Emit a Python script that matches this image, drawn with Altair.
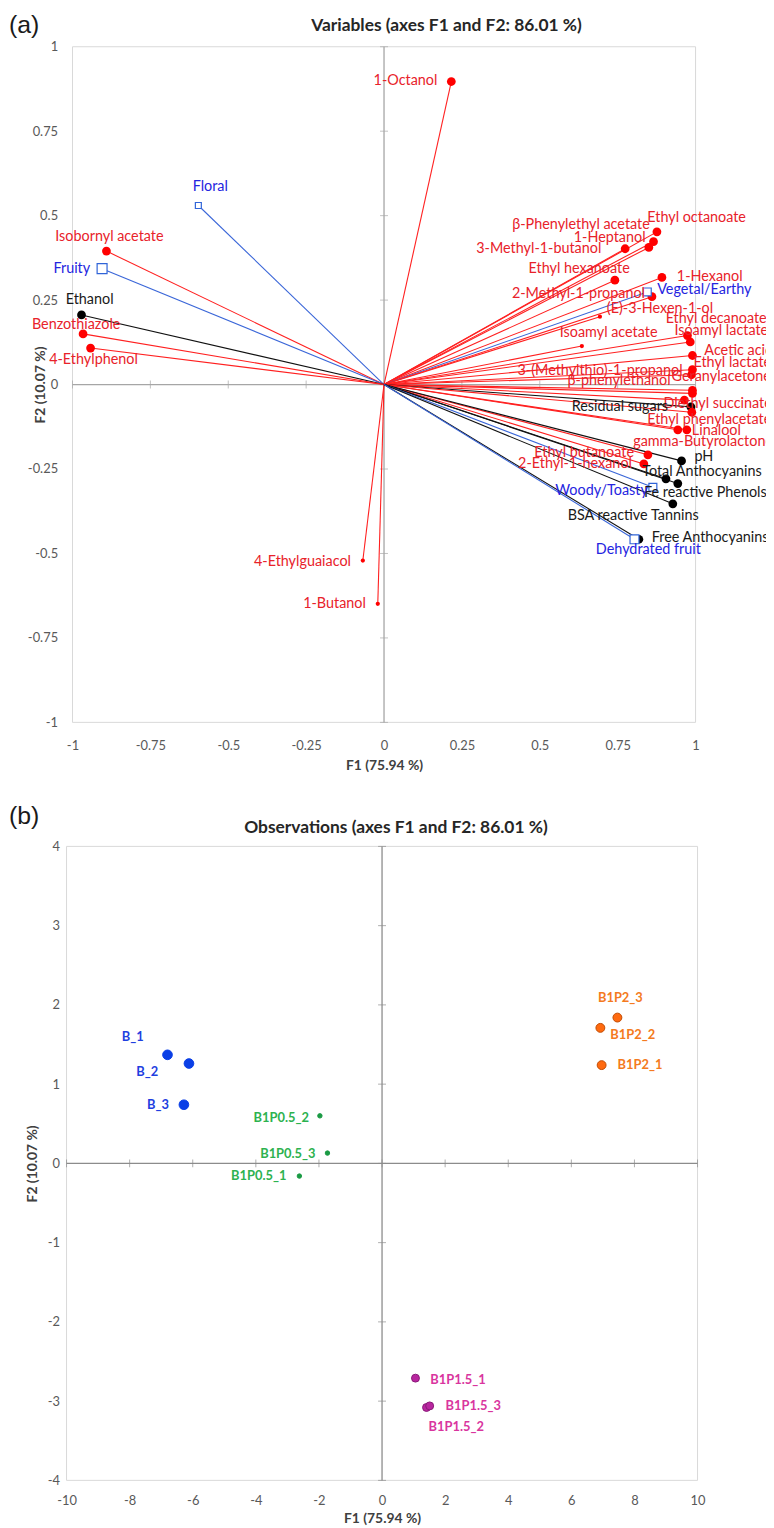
import altair as alt
import pandas as pd

# ---------------- Panel (a): variables (correlation circle) ----------------
var_names = [
    "1-Octanol", "Floral", "Isobornyl acetate", "Fruity", "Ethanol",
    "Benzothiazole", "4-Ethylphenol", "4-Ethylguaiacol", "1-Butanol",
    "Ethyl octanoate", "1-Heptanol", "β-Phenylethyl acetate", "3-Methyl-1-butanol",
    "Ethyl hexanoate", "1-Hexanol", "Vegetal/Earthy", "2-Methyl-1-propanol",
    "(E)-3-Hexen-1-ol", "Isoamyl acetate", "Ethyl decanoate", "Isoamyl lactate",
    "Acetic acid", "Ethyl lactate", "3-(Methylthio)-1-propanol", "Geranylacetone",
    "β-phenylethanol", "Diethyl succinate", "Residual sugars", "Ethyl phenylacetate",
    "Linalool", "gamma-Butyrolactone", "Ethyl butanoate", "2-Ethyl-1-hexanol",
    "pH", "Total Anthocyanins", "Fe reactive Phenols", "Woody/Toasty",
    "BSA reactive Tannins", "Free Anthocyanins", "Dehydrated fruit",
]
var_f1 = [
    0.216, -0.596, -0.891, -0.905, -0.971,
    -0.966, -0.942, -0.068, -0.020,
    0.876, 0.865, 0.850, 0.774,
    0.741, 0.892, 0.845, 0.860,
    0.693, 0.635, 0.974, 0.983,
    0.990, 0.990, 0.987, 0.990,
    0.990, 0.964, 0.985, 0.988,
    0.972, 0.943, 0.847, 0.834,
    0.955, 0.905, 0.943, 0.863,
    0.927, 0.818, 0.804,
]
var_f2 = [
    0.897, 0.530, 0.395, 0.343, 0.206,
    0.150, 0.108, -0.521, -0.649,
    0.452, 0.423, 0.406, 0.402,
    0.309, 0.317, 0.274, 0.260,
    0.201, 0.114, 0.145, 0.126,
    0.086, 0.044, 0.029, -0.017,
    -0.026, -0.046, -0.066, -0.082,
    -0.134, -0.134, -0.208, -0.235,
    -0.226, -0.279, -0.293, -0.304,
    -0.353, -0.458, -0.458,
]
var_type = [
    "compound", "sensory", "compound", "sensory", "chemical",
    "compound", "compound", "compound", "compound",
    "compound", "compound", "compound", "compound",
    "compound", "compound", "sensory", "compound",
    "compound", "compound", "compound", "compound",
    "compound", "compound", "compound", "compound",
    "compound", "compound", "chemical", "compound",
    "compound", "compound", "compound", "compound",
    "chemical", "chemical", "chemical", "sensory",
    "chemical", "chemical", "sensory",
]
a_ticks = [-1, -0.75, -0.5, -0.25, 0, 0.25, 0.5, 0.75, 1]

# ---------------- Panel (b): observations ----------------
obs_names = ["B_1", "B_2", "B_3", "B1P0.5_1", "B1P0.5_2", "B1P0.5_3",
             "B1P1.5_1", "B1P1.5_2", "B1P1.5_3", "B1P2_1", "B1P2_2", "B1P2_3"]
obs_f1 = [-6.80, -6.12, -6.28, -2.62, -1.97, -1.73, 1.06, 1.41, 1.51, 6.96, 6.92, 7.46]
obs_f2 = [1.37, 1.26, 0.74, -0.16, 0.60, 0.13, -2.71, -3.08, -3.06, 1.24, 1.71, 1.84]
obs_group = ["B", "B", "B", "B1P0.5", "B1P0.5", "B1P0.5",
             "B1P1.5", "B1P1.5", "B1P1.5", "B1P2", "B1P2", "B1P2"]
b_ticks_x = [-10, -8, -6, -4, -2, 0, 2, 4, 6, 8, 10]
b_ticks_y = [-4, -3, -2, -1, 0, 1, 2, 3, 4]

# ---------------- styling ----------------
FONT = "Lato"
FRAME_COL = "#d9d9d9"
# (a): group 634 wide, plot drawn from px 6 to 634; (b): plot 0..636
A_RANGE_X, A_W, A_H = [6, 634], 634, 681
B_RANGE_X, B_W, B_H = [0, 636], 636, 639

VAR_COLORS = {
    "compound": {"line": "#ff2020", "mark": "#ff0000", "text": "#e8222a"},
    "chemical": {"line": "#111111", "mark": "#000000", "text": "#1a1a1a"},
    "sensory": {"line": "#3a66d8", "mark": "#3064d8", "text": "#2424e0"},
}
SMALL_DOTS = {"4-Ethylguaiacol", "1-Butanol", "(E)-3-Hexen-1-ol", "Isoamyl acetate"}
SQUARE_SIZES = {"Floral": 36, "Fruity": 100, "Vegetal/Earthy": 64,
                "Woody/Toasty": 64, "Dehydrated fruit": 81}
# label placement: (align, dx px, dy px) relative to the marker
VAR_LABEL = {
    "1-Octanol": ("right", -14, 0), "Floral": ("center", 12, -19),
    "Isobornyl acetate": ("center", 3, -14), "Fruity": ("right", -12, 0),
    "Ethanol": ("left", -16, -15), "Benzothiazole": ("center", -7, -9),
    "4-Ethylphenol": ("center", 3, 12), "4-Ethylguaiacol": ("right", -12, 1),
    "1-Butanol": ("right", -12, 0), "Ethyl octanoate": ("center", 40, -14),
    "1-Heptanol": ("right", -8, -4), "β-Phenylethyl acetate": ("right", 1, -23),
    "3-Methyl-1-butanol": ("right", -24, 0), "Ethyl hexanoate": ("center", -36, -11),
    "1-Hexanol": ("left", 15, 0), "Vegetal/Earthy": ("left", 10, -2),
    "2-Methyl-1-propanol": ("right", -7, -3), "(E)-3-Hexen-1-ol": ("left", 7, -8),
    "Isoamyl acetate": ("center", 27, -13), "Ethyl decanoate": ("left", -22, -17),
    "Isoamyl lactate": ("left", -16, -11), "Acetic acid": ("left", 12, -4),
    "Ethyl lactate": ("left", 1, -7), "3-(Methylthio)-1-propanol": ("right", -9, -4),
    "Geranylacetone": ("left", -21, -13), "β-phenylethanol": ("right", -22, -12),
    "Diethyl succinate": ("left", -21, 4), "Residual sugars": ("right", -23, 0),
    "Ethyl phenylacetate": ("left", -45, 8), "Linalool": ("left", 5, 1),
    "gamma-Butyrolactone": ("left", -45, 12), "Ethyl butanoate": ("right", -14, -2),
    "2-Ethyl-1-hexanol": ("right", -12, 0), "pH": ("left", 13, -4),
    "Total Anthocyanins": ("left", -24, -7), "Fe reactive Phenols": ("left", -34, 10),
    "Woody/Toasty": ("right", -5, 4), "BSA reactive Tannins": ("center", -40, 12),
    "Free Anthocyanins": ("left", 13, -1), "Dehydrated fruit": ("center", 14, 11),
}

OBS_COLORS = {
    "B": {"mark": "#0a3fe6", "stroke": "#0a3fe6", "text": "#1f3fe0", "size": 95},
    "B1P0.5": {"mark": "#1a9a44", "stroke": "#1a9a44", "text": "#2db24f", "size": 20},
    "B1P1.5": {"mark": "#b8269f", "stroke": "#8a1a78", "text": "#d9359e", "size": 64},
    "B1P2": {"mark": "#ff6a10", "stroke": "#c04a00", "text": "#f47a20", "size": 80},
}
OBS_LABEL = {
    "B_1": ("center", -35, -18), "B_2": ("right", -31, 9), "B_3": ("right", -15, 0),
    "B1P0.5_1": ("right", -13, 0), "B1P0.5_2": ("right", -11, 2), "B1P0.5_3": ("right", -12, 1),
    "B1P1.5_1": ("left", 15, 2), "B1P1.5_2": ("center", 30, 20), "B1P1.5_3": ("left", 16, 0),
    "B1P2_1": ("left", 16, 0), "B1P2_2": ("left", 10, 7), "B1P2_3": ("center", 3, -20),
}


def x_axis(values, label_pad, title_pad):
    return alt.Axis(values=values, title="F1 (75.94 %)", grid=False, domain=False,
                    ticks=False, tickSize=0, labelPadding=label_pad, labelFont=FONT,
                    labelFontSize=13, labelColor="#595959", labelExpr="'' + datum.value",
                    labelFlush=False, labelOverlap=False, titleFont=FONT, titleFontSize=14,
                    titleFontWeight="bold", titleColor="#404040", titlePadding=title_pad)


def y_axis(values, label_pad, title_x, h):
    return alt.Axis(values=values, title="F2 (10.07 %)", grid=False, domain=False,
                    ticks=False, tickSize=0, labelPadding=label_pad, labelFont=FONT,
                    labelFontSize=13, labelColor="#595959", labelExpr="'' + datum.value",
                    labelFlush=False, labelOverlap=False, titleFont=FONT, titleFontSize=14,
                    titleFontWeight="bold", titleColor="#404040", titleX=title_x,
                    titleY=h / 2, titleAngle=-90, titleAlign="center", titleBaseline="middle")


def build_panel(df, xs, ys, axx, axy, xticks, yticks, w, h, zero_col, label_size,
                label_weight, title, title_x, title_y, tag, tag_x, tag_y):
    X = lambda f: alt.X(f, scale=xs, axis=axx)
    Y = lambda f: alt.Y(f, scale=ys, axis=axy)
    frame = pd.DataFrame({"xa": [xticks[0]], "xb": [xticks[-1]],
                          "ya": [yticks[0]], "yb": [yticks[-1]], "z": [0.0]})
    layers = [
        alt.Chart(frame).mark_rect(filled=False, color=FRAME_COL, strokeWidth=1).encode(
            x=X("xa:Q"), x2="xb:Q", y=Y("ya:Q"), y2="yb:Q"),
        alt.Chart(frame).mark_rule(color=zero_col, strokeWidth=1.3).encode(
            x=X("z:Q"), y=Y("ya:Q"), y2="yb:Q"),
        alt.Chart(frame).mark_rule(color=zero_col, strokeWidth=1.3).encode(
            y=Y("z:Q"), x=X("xa:Q"), x2="xb:Q"),
        alt.Chart(pd.DataFrame({"t": xticks, "z": [0.0] * len(xticks)})).mark_tick(
            orient="vertical", size=8, thickness=1, color=zero_col).encode(
            x=X("t:Q"), y=Y("z:Q")),
        alt.Chart(pd.DataFrame({"t": yticks, "z": [0.0] * len(yticks)})).mark_tick(
            orient="horizontal", size=8, thickness=1, color=zero_col).encode(
            y=Y("t:Q"), x=X("z:Q")),
    ]
    if "line_col" in df.columns:
        layers.append(alt.Chart(df).mark_rule(strokeWidth=1.1).encode(
            x=X("x0:Q"), y=Y("y0:Q"), x2="f1:Q", y2="f2:Q",
            color=alt.Color("line_col:N", scale=None)))
        layers.append(alt.Chart(df[~df["is_sq"]]).mark_circle(opacity=1).encode(
            x=X("f1:Q"), y=Y("f2:Q"),
            color=alt.Color("mark_col:N", scale=None), size=alt.Size("sz:Q", scale=None)))
        layers.append(alt.Chart(df[df["is_sq"]]).mark_square(
            fill="white", strokeWidth=1.2, opacity=1, fillOpacity=1).encode(
            x=X("f1:Q"), y=Y("f2:Q"),
            stroke=alt.Stroke("mark_col:N", scale=None), size=alt.Size("sz:Q", scale=None)))
    else:
        layers.append(alt.Chart(df).mark_point(filled=True, opacity=1, strokeWidth=1).encode(
            x=X("f1:Q"), y=Y("f2:Q"),
            fill=alt.Fill("mark_col:N", scale=None),
            stroke=alt.Stroke("stroke_col:N", scale=None),
            size=alt.Size("sz:Q", scale=None)))
    for al in ["left", "center", "right"]:
        sub = df[df["align"] == al]
        if len(sub) == 0:
            continue
        layers.append(alt.Chart(sub).mark_text(
            align=al, baseline="middle", font=FONT, fontSize=label_size,
            fontWeight=label_weight).encode(
            x=X("lx:Q"), y=Y("ly:Q"), text="name:N",
            color=alt.Color("text_col:N", scale=None)))
    # panel title and panel tag
    layers.append(alt.Chart(pd.DataFrame({"t": [title]})).mark_text(
        align="center", baseline="middle", font=FONT, fontSize=17.5, fontWeight="bold",
        color="#262626").encode(text="t:N", x=alt.value(title_x), y=alt.value(title_y)))
    layers.append(alt.Chart(pd.DataFrame({"t": [tag]})).mark_text(
        align="left", baseline="middle", fontSize=25, font="Liberation Sans",
        color="#1a1a1a").encode(text="t:N", x=alt.value(tag_x), y=alt.value(tag_y)))
    return alt.layer(*layers).properties(width=w, height=h)


# ---------------- build panel (a) ----------------
px_a = (A_RANGE_X[1] - A_RANGE_X[0]) / 2
df_a = pd.DataFrame({"name": var_names, "f1": var_f1, "f2": var_f2, "type": var_type})
df_a["line_col"] = [VAR_COLORS[t]["line"] for t in var_type]
df_a["mark_col"] = [VAR_COLORS[t]["mark"] for t in var_type]
df_a["text_col"] = [VAR_COLORS[t]["text"] for t in var_type]
df_a["is_sq"] = [n in SQUARE_SIZES for n in var_names]
df_a["sz"] = [SQUARE_SIZES.get(n, 18 if n in SMALL_DOTS else 78) for n in var_names]
df_a["align"] = [VAR_LABEL[n][0] for n in var_names]
df_a["lx"] = [f + VAR_LABEL[n][1] / px_a for n, f in zip(var_names, var_f1)]
df_a["ly"] = [f - VAR_LABEL[n][2] / (A_H / 2) for n, f in zip(var_names, var_f2)]
df_a["x0"] = 0.0
df_a["y0"] = 0.0

panel_a = build_panel(
    df_a, alt.Scale(domain=[-1, 1], range=A_RANGE_X, nice=False, zero=False),
    alt.Scale(domain=[-1, 1], nice=False, zero=False),
    x_axis(a_ticks, 17, 7), y_axis(a_ticks, 9, -26, A_H), a_ticks, a_ticks,
    A_W, A_H, "#a6a6a6", 14.5, "normal", "Variables (axes F1 and F2: 86.01 %)", 383, -21,
    "(a)", -58, -22)

# ---------------- build panel (b) ----------------
px_b = (B_RANGE_X[1] - B_RANGE_X[0]) / 20
df_b = pd.DataFrame({"name": obs_names, "f1": obs_f1, "f2": obs_f2, "group": obs_group})
df_b["mark_col"] = [OBS_COLORS[g]["mark"] for g in obs_group]
df_b["stroke_col"] = [OBS_COLORS[g]["stroke"] for g in obs_group]
df_b["text_col"] = [OBS_COLORS[g]["text"] for g in obs_group]
df_b["sz"] = [OBS_COLORS[g]["size"] for g in obs_group]
df_b["align"] = [OBS_LABEL[n][0] for n in obs_names]
df_b["lx"] = [f + OBS_LABEL[n][1] / px_b for n, f in zip(obs_names, obs_f1)]
df_b["ly"] = [f - OBS_LABEL[n][2] / (B_H / 8) for n, f in zip(obs_names, obs_f2)]

panel_b = build_panel(
    df_b, alt.Scale(domain=[-10, 10], range=B_RANGE_X, nice=False, zero=False),
    alt.Scale(domain=[-4, 4], nice=False, zero=False),
    x_axis(b_ticks_x, 14, 4), y_axis(b_ticks_y, 7, -34, B_H), b_ticks_x, b_ticks_y,
    B_W, B_H, "#8c8c8c", 13, "bold", "Observations (axes F1 and F2: 86.01 %)", 332, -19,
    "(b)", -58, -31)

chart = alt.vconcat(panel_a, panel_b, spacing=29).configure_view(
    stroke="transparent").properties(
    padding={"left": 0, "top": -2, "right": -8, "bottom": 0})

chart.save("out.html", embed_options={"renderer": "svg", "actions": False})
